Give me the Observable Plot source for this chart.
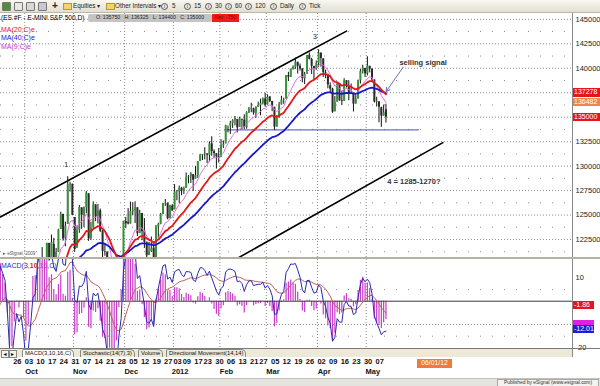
<!DOCTYPE html>
<html>
<head>
<meta charset="utf-8">
<script src="https://cdn.jsdelivr.net/npm/d3@7"></script>
<script src="https://cdn.jsdelivr.net/npm/@observablehq/plot@0.6"></script>
<style>
  html,body{margin:0;padding:0;background:#fff;}
  #root{position:relative;width:600px;height:386px;overflow:hidden;font-family:"Liberation Sans",Arial,sans-serif;background:#fff;}
  .a{position:absolute;white-space:nowrap;}
  #toolbar{left:0;top:0;width:600px;height:12px;background:linear-gradient(#f8f7f1,#e2dfd2);border-bottom:1px solid #bcb8a6;font-size:6.3px;color:#222;line-height:12px;}
  .ico{width:7px;height:7px;top:2px;border:1px solid #777;border-radius:1px;}
  .fold{width:7px;height:5px;top:3px;background:#f2d46a;border:1px solid #b59a30;}
  .ci{width:5px;height:5px;top:3px;border:1px solid #555;border-radius:50%;font-size:4.5px;line-height:5px;text-align:center;}
  .tab{top:349px;height:7px;font-size:5.8px;line-height:7px;padding:0 2px;border:1px solid #8c8a80;border-bottom:none;background:#ece9d8;color:#111;border-radius:2px 5px 0 0;}
  .vbox{color:#fff;font-size:7px;line-height:8.3px;height:8.3px;padding-left:1px;}
</style>
</head>
<body>
<div id="root">
  <div class="a" id="toolbar">
    <span class="a ico" style="left:2px;background:#4f8f3c"></span>
    <span class="a ico" style="left:14px;background:#e8e8e8"></span>
    <span class="a ico" style="left:26px;background:#d8d8d8"></span>
    <span class="a ico" style="left:38px;background:#c8c8d8"></span>
    <span class="a" style="left:52px;font-size:10px;font-weight:bold;line-height:11px">+</span>
    <span class="a fold" style="left:63px"></span>
    <span class="a" style="left:73px">Equities ▾</span>
    <span class="a fold" style="left:106px"></span>
    <span class="a" style="left:115px">Other Intervals ▾</span>
    <span class="a ci" style="left:161px">i</span><span class="a" style="left:172px">5</span>
    <span class="a ci" style="left:184px">i</span><span class="a" style="left:194px">15</span>
    <span class="a ci" style="left:205px">i</span><span class="a" style="left:215px">30</span>
    <span class="a ci" style="left:225px">i</span><span class="a" style="left:235px">60</span>
    <span class="a ci" style="left:245px">i</span><span class="a" style="left:255px">120</span>
    <span class="a ci" style="left:270px">i</span><span class="a" style="left:280px">Daily</span>
    <span class="a ci" style="left:299px">i</span><span class="a" style="left:309px">Tick</span>
  </div>
</div>
<script>
// ---------------- DATA (E-mini S&P 500 daily) ----------------
const warmDates = ("2011-08-01 2011-08-02 2011-08-03 2011-08-04 2011-08-05 2011-08-08 2011-08-09 2011-08-10 2011-08-11 2011-08-12 " +
  "2011-08-15 2011-08-16 2011-08-17 2011-08-18 2011-08-19 2011-08-22 2011-08-23 2011-08-24 2011-08-25 2011-08-26 " +
  "2011-08-29 2011-08-30 2011-08-31 2011-09-01 2011-09-02 2011-09-06 2011-09-07 2011-09-08 2011-09-09 2011-09-12 " +
  "2011-09-13 2011-09-14 2011-09-15 2011-09-16 2011-09-19 2011-09-20 2011-09-21 2011-09-22 2011-09-23").split(" ");
const warmClose = [1283.4,1250.6,1256.8,1196.6,1195.9,1116.0,1169.0,1117.3,1169.1,1175.3,
  1201.0,1189.3,1190.4,1137.2,1120.0,1120.3,1158.9,1174.1,1155.8,1173.3,
  1206.6,1209.4,1215.4,1200.9,1170.5,1161.7,1195.1,1182.4,1150.7,1158.8,
  1169.4,1185.2,1205.6,1212.5,1200.6,1198.6,1163.3,1126.1,1132.9];

const dates = ("2011-09-26 2011-09-27 2011-09-28 2011-09-29 2011-09-30 " +
  "2011-10-03 2011-10-04 2011-10-05 2011-10-06 2011-10-07 2011-10-10 2011-10-11 2011-10-12 2011-10-13 2011-10-14 2011-10-17 2011-10-18 2011-10-19 2011-10-20 2011-10-21 2011-10-24 2011-10-25 2011-10-26 2011-10-27 2011-10-28 2011-10-31 " +
  "2011-11-01 2011-11-02 2011-11-03 2011-11-04 2011-11-07 2011-11-08 2011-11-09 2011-11-10 2011-11-11 2011-11-14 2011-11-15 2011-11-16 2011-11-17 2011-11-18 2011-11-21 2011-11-22 2011-11-23 2011-11-24 2011-11-25 2011-11-28 2011-11-29 2011-11-30 " +
  "2011-12-01 2011-12-02 2011-12-05 2011-12-06 2011-12-07 2011-12-08 2011-12-09 2011-12-12 2011-12-13 2011-12-14 2011-12-15 2011-12-16 2011-12-19 2011-12-20 2011-12-21 2011-12-22 2011-12-23 2011-12-27 2011-12-28 2011-12-29 2011-12-30 " +
  "2012-01-03 2012-01-04 2012-01-05 2012-01-06 2012-01-09 2012-01-10 2012-01-11 2012-01-12 2012-01-13 2012-01-17 2012-01-18 2012-01-19 2012-01-20 2012-01-23 2012-01-24 2012-01-25 2012-01-26 2012-01-27 2012-01-30 2012-01-31 " +
  "2012-02-01 2012-02-02 2012-02-03 2012-02-06 2012-02-07 2012-02-08 2012-02-09 2012-02-10 2012-02-13 2012-02-14 2012-02-15 2012-02-16 2012-02-17 2012-02-21 2012-02-22 2012-02-23 2012-02-24 2012-02-27 2012-02-28 2012-02-29 " +
  "2012-03-01 2012-03-02 2012-03-05 2012-03-06 2012-03-07 2012-03-08 2012-03-09 2012-03-12 2012-03-13 2012-03-14 2012-03-15 2012-03-16 2012-03-19 2012-03-20 2012-03-21 2012-03-22 2012-03-23 2012-03-26 2012-03-27 2012-03-28 2012-03-29 2012-03-30 " +
  "2012-04-02 2012-04-03 2012-04-04 2012-04-05 2012-04-06 2012-04-09 2012-04-10 2012-04-11 2012-04-12 2012-04-13 2012-04-16 2012-04-17 2012-04-18 2012-04-19 2012-04-20 2012-04-23 2012-04-24 2012-04-25 2012-04-26 2012-04-27 2012-04-30 " +
  "2012-05-01 2012-05-02 2012-05-03 2012-05-04 2012-05-07 2012-05-08 2012-05-09 2012-05-10 2012-05-11").split(" ");

const open = [1133.4,1159.8,1171.9,1148.2,1156.4,
  1127.7,1093.9,1120.5,1140.6,1161.5,1154.7,1191.1,1192.7,1202.5,1202.2,1221.0,1197.3,1220.0,1206.4,1211.9,1235.2,1250.7,1225.7,1240.5,1280.9,1281.5,
  1247.5,1216.1,1234.8,1257.3,1249.7,1257.6,1271.7,1226.1,1236.6,1260.4,1248.2,1254.3,1233.1,1212.7,1212.1,1189.5,1184.0,1157.0,1157.9,1155.2,1189.1,1193.2,
  1243.4,1242.5,1240.8,1253.7,1254.6,1257.4,1231.0,1251.6,1233.3,1222.2,1208.6,1212.6,1216.2,1202.2,1237.8,1240.2,1250.5,1261.5,1261.9,1246.3,1259.3,
  1255.4,1273.5,1273.8,1277.4,1274.3,1277.3,1288.5,1289.0,1291.3,1286.7,1290.2,1304.6,1311.0,1311.8,1312.5,1310.9,1322.8,1314.8,1312.7,1310.0,
  1309.0,1320.7,1322.7,1340.8,1340.8,1343.5,1346.5,1347.7,1339.6,1347.8,1347.0,1339.1,1354.6,1357.7,1358.6,1354.0,1360.0,1361.7,1364.1,1368.7,
  1362.4,1370.6,1366.1,1360.1,1339.9,1349.2,1362.5,1367.3,1368.4,1392.5,1390.7,1399.1,1400.7,1406.1,1402.0,1399.4,1389.3,1393.6,1413.1,1409.0,1401.9,1399.8,
  1405.0,1415.5,1409.6,1395.3,1393.0,1382.0,1378.7,1355.5,1365.3,1384.1,1366.8,1366.1,1387.3,1381.6,1373.5,1375.0,1363.5,1368.6,1387.1,1396.7,1399.8,
  1394.4,1402.0,1398.8,1388.0,1365.3,1365.7,1359.7,1351.1,1357.5];
const high = [1160.7,1192.4,1181.2,1172.4,1156.5,
  1135.5,1121.6,1142.6,1162.1,1167.9,1191.4,1195.7,1216.8,1204.0,1221.1,1221.0,1229.6,1226.1,1215.9,1235.5,1253.0,1250.7,1242.8,1289.2,1283.6,1281.5,
  1247.5,1239.0,1259.7,1257.3,1258.2,1274.1,1271.7,1242.7,1263.5,1260.4,1260.8,1256.1,1234.2,1220.0,1212.1,1193.3,1184.0,1163.0,1169.2,1193.9,1200.2,1243.6,
  1247.6,1256.6,1263.2,1262.5,1263.6,1257.4,1254.8,1251.6,1246.4,1222.2,1222.1,1227.5,1221.1,1239.3,1241.6,1251.7,1261.9,1265.9,1262.4,1260.0,1260.6,
  1281.1,1275.2,1279.6,1278.3,1278.5,1293.0,1290.3,1293.3,1291.3,1299.5,1304.6,1312.0,1311.9,1318.8,1312.5,1324.8,1330.0,1316.6,1312.7,1317.9,
  1327.0,1325.7,1341.8,1340.9,1345.7,1347.5,1350.8,1347.7,1349.9,1347.8,1352.4,1355.5,1359.9,1364.3,1359.2,1360.7,1365.4,1368.4,1369.6,1374.5,
  1372.7,1371.0,1366.1,1360.1,1351.4,1365.2,1371.3,1369.5,1392.5,1395.9,1399.1,1402.4,1410.5,1406.1,1404.3,1399.4,1395.7,1413.1,1415.7,1410.2,1401.9,1407.4,
  1418.9,1415.5,1409.6,1398.1,1394.0,1385.0,1379.5,1371.2,1384.6,1384.1,1376.2,1389.3,1387.3,1387.0,1383.9,1375.0,1372.1,1387.9,1398.6,1403.1,1399.8,
  1411.8,1402.0,1399.6,1388.0,1370.4,1365.7,1360.2,1362.4,1363.25];
const low = [1127.6,1159.8,1146.9,1136.4,1127.8,
  1095.4,1071.3,1112.2,1131.4,1146.8,1154.7,1183.8,1192.7,1187.1,1202.2,1195.1,1188.0,1202.8,1193.8,1211.9,1235.2,1223.3,1217.6,1240.5,1273.5,1249.7,
  1211.9,1216.1,1231.3,1235.4,1237.3,1251.5,1223.1,1224.2,1236.6,1243.2,1240.8,1232.2,1205.9,1207.9,1179.7,1178.2,1158.3,1155.0,1155.2,1155.2,1188.3,1193.2,
  1236.2,1239.9,1240.8,1249.5,1241.3,1228.0,1231.0,1223.8,1215.9,1206.0,1208.6,1211.7,1198.9,1202.2,1226.0,1240.2,1250.5,1258.8,1245.1,1246.3,1254.0,
  1255.4,1264.6,1261.8,1269.8,1271.0,1277.3,1281.9,1282.3,1274.1,1286.7,1287.5,1304.6,1305.7,1306.4,1302.6,1304.2,1310.1,1308.2,1297.0,1303.2,
  1309.0,1318.1,1322.7,1334.0,1332.4,1338.5,1341.1,1333.9,1339.6,1337.3,1337.3,1337.7,1353.7,1354.6,1352.0,1348.8,1360.0,1351.4,1362.5,1360.3,
  1362.4,1364.8,1355.6,1336.5,1339.9,1349.2,1362.5,1363.2,1368.4,1386.5,1390.7,1398.0,1398.9,1394.2,1397.1,1385.2,1383.4,1393.6,1408.5,1393.7,1388.1,1397.9,
  1401.0,1401.1,1390.6,1389.4,1379.0,1374.7,1353.9,1355.5,1365.3,1366.4,1361.9,1366.1,1379.8,1366.8,1373.5,1355.3,1363.3,1368.6,1383.9,1394.2,1390.5,
  1392.2,1395.3,1385.2,1364.5,1360.4,1344.3,1339.6,1351.1,1344.0];
const close = [1159.5,1171.9,1147.6,1156.9,1127.9,
  1095.7,1120.5,1140.5,1161.5,1152.0,1191.4,1192.0,1203.8,1200.2,1221.1,1197.4,1221.9,1206.4,1211.9,1234.8,1250.7,1225.6,1238.5,1281.1,1281.6,1249.8,
  1214.8,1234.4,1257.7,1249.7,1257.6,1272.4,1225.6,1236.2,1260.4,1248.3,1254.3,1233.4,1212.6,1212.2,1189.5,1184.5,1158.3,1160.0,1155.2,1189.1,1191.7,1243.5,
  1241.1,1240.8,1253.6,1255.0,1257.5,1230.9,1251.7,1233.0,1222.2,1208.3,1212.3,1216.2,1201.9,1237.8,1240.2,1250.5,1261.8,1261.9,1246.1,1259.5,1254.1,
  1273.6,1273.8,1277.6,1274.3,1277.2,1288.6,1289.0,1292.0,1285.6,1290.2,1304.5,1311.0,1311.9,1312.5,1311.2,1322.6,1314.9,1312.8,1309.5,1308.9,
  1320.6,1322.0,1341.4,1340.8,1343.6,1346.5,1348.5,1339.1,1348.3,1347.0,1339.7,1354.5,1357.7,1358.7,1354.2,1360.0,1362.2,1364.1,1368.7,1362.2,
  1370.6,1366.1,1360.8,1339.9,1349.1,1362.4,1367.4,1367.6,1392.5,1390.8,1399.1,1400.7,1406.3,1402.0,1399.4,1389.3,1393.6,1413.0,1409.0,1402.0,1399.8,1405.0,
  1415.5,1409.9,1395.5,1394.6,1383.0,1378.7,1355.1,1365.2,1384.1,1366.8,1366.1,1387.3,1381.6,1373.4,1375.0,1363.4,1368.5,1387.2,1396.5,1399.9,1394.4,
  1402.3,1398.8,1388.1,1365.6,1366.1,1360.2,1351.1,1354.5,1350.0];

// Tick labels
const priceTicks = [1225,1250,1275,1300,1325,1350,1375,1400,1425,1450];
const macdTicks = [10,0,-10,-20];
const weekLabels = ["2011-09-26","2011-10-03","2011-10-10","2011-10-17","2011-10-24","2011-10-31","2011-11-07","2011-11-14","2011-11-21","2011-11-28",
  "2011-12-05","2011-12-12","2011-12-19","2011-12-27","2012-01-03","2012-01-09","2012-01-17","2012-01-23","2012-01-30","2012-02-06","2012-02-13",
  "2012-02-21","2012-02-27","2012-03-05","2012-03-12","2012-03-19","2012-03-26","2012-04-02","2012-04-09","2012-04-16","2012-04-23","2012-04-30","2012-05-07"];
const monthLabels = [["2011-10-03","Oct"],["2011-11-01","Nov"],["2011-12-01","Dec"],["2012-01-03","2012"],["2012-02-01","Feb"],["2012-03-01","Mar"],["2012-04-02","Apr"],["2012-05-01","May"]];

// Header values and last-value boxes
const header = {symbol: "(ES #F - E-MINI S&P 500,D)", O: "135750", H: "136325", L: "134400", C: "135000", net: "Net: -750"};
const lastMA20 = 1372.78, lastMA9 = 1364.82;
const lastSignal = -1.86, lastHist = -10.15, lastMacd = -12.01;

// Drawn annotations (bar index, price)
const upperTrend = [[-6, 1248], [143, 1438]];
const lowerTrend = [[80, 1184.3], [184.5, 1324]];
const support = [{from: 90.5, to: 174.4, price: 1337}];
const notes = [
  {i: 22.3, price: 1301.6, text: "1", bold: false},
  {i: 129.4, price: 1431.7, text: "3", bold: false},
  {i: 165.8, price: 1406.2, text: "selling signal", bold: true},
  {i: 160.6, price: 1284.6, text: "4 = 1285-1270?", bold: true}
];
const arrowNote = [{x1: 167.4, y1: 1401.1, x2: 160.1, y2: 1376.3}];

// ---------------- derived ----------------
const N = dates.length, W = warmDates.length;
const bars = dates.map((d, i) => ({i, date: d, open: open[i], high: high[i], low: low[i], close: close[i]}));
const allClose = warmClose.concat(close);
function ema(vals, n) {
  const k = 2 / (n + 1), out = vals.map(() => undefined);
  const start = vals.findIndex(v => v !== undefined);
  let s = 0;
  for (let j = start; j < vals.length; j++) {
    const v = vals[j];
    if (j - start < n - 1) s += v;
    else if (j - start === n - 1) { s += v; out[j] = s / n; }
    else out[j] = v * k + out[j - 1] * (1 - k);
  }
  return out;
}
const e9 = ema(allClose, 9), e20 = ema(allClose, 20), e40 = ema(allClose, 40);
const e3 = ema(allClose, 3), e10 = ema(allClose, 10);
const macd = allClose.map((_, j) => (e3[j] !== undefined && e10[j] !== undefined) ? e3[j] - e10[j] : undefined);
const sig = ema(macd, 16);
const ind = allClose.map((_, j) => ({
  i: j - W, ma9: e9[j], ma20: e20[j], ma40: e40[j],
  macd: macd[j], signal: sig[j], hist: (sig[j] !== undefined) ? macd[j] - sig[j] : undefined
}));
const idxOf = d => dates.indexOf(d);
const weekTicks = weekLabels.map(d => ({i: idxOf(d), label: d.slice(8)}));
const monthTicks = monthLabels.map(([d, t]) => ({i: idxOf(d), label: t}));
const monthLines = monthTicks.map(m => m.i - 0.5);
const minorPrice = priceTicks.map(p => p - 12.5).concat([1462.5]);

const xDomain = [-5.94, 240.3];
const yPriceDomain = [1205.58, 1455.97], priceH = 245;
const yMacdDomain = [-20.3, 17.9], macdH = 89;
const baseStyle = {background: "transparent", fontFamily: "Liberation Sans, Arial, sans-serif", fontSize: "7.5px", color: "#222", overflow: "visible"};
const grid = "#8c8c8c";

// price-axis value boxes (drawn on top of the axis); tick labels hidden under them are skipped
const pyLin = d3.scaleLinear(yPriceDomain, [priceH, 0]);
const pBoxes = [
  {v: lastMA20, bg: "#e4161b"},
  {v: lastMA9, bg: "#f0854a"},
  {v: close[N - 1], bg: "#e4161b"}
].map(b => ({...b, label: (b.v * 100).toFixed(0), c: pyLin(b.v)})).sort((a, b) => a.c - b.c);
for (let k = pBoxes.length - 2; k >= 0; k--) if (pBoxes[k].c > pBoxes[k + 1].c - 9.6) pBoxes[k].c = pBoxes[k + 1].c - 9.6;
const shownPriceTicks = priceTicks.filter(t => pBoxes.every(b => Math.abs(pyLin(t) - b.c) > 8));

const mBoxes = [
  {v: lastSignal, bg: "#e4161b", show: true},
  {v: lastHist, bg: "#e020e0", show: false},
  {v: lastMacd, bg: "#1c1cdc", show: true}
];
const myLin = d3.scaleLinear(yMacdDomain, [macdH, 0]);
const shownMacdTicks = macdTicks.filter(t => mBoxes.every(b => Math.abs(myLin(t) - myLin(b.v)) > 5.5));

// ---------------- price panel ----------------
const priceChart = Plot.plot({
  width: 600, height: priceH, marginTop: 0, marginBottom: 0, marginLeft: 0, marginRight: 28,
  x: {type: "linear", domain: xDomain, axis: null},
  y: {type: "linear", domain: yPriceDomain, axis: null},
  style: baseStyle,
  marks: [
    Plot.ruleY(minorPrice, {stroke: grid, strokeDasharray: "1,11", clip: true}),
    Plot.ruleY(priceTicks, {stroke: grid, strokeDasharray: "1,2"}),
    Plot.ruleX(monthLines, {stroke: grid, strokeDasharray: "1,2"}),
    Plot.ruleY(support, {x1: "from", x2: "to", y: "price", stroke: "#4848b8", strokeWidth: 1}),
    Plot.line(upperTrend, {x: d => d[0], y: d => d[1], stroke: "#000", strokeWidth: 1.6, clip: true}),
    Plot.line(lowerTrend, {x: d => d[0], y: d => d[1], stroke: "#000", strokeWidth: 1.6, clip: true}),
    Plot.ruleX(bars, {x: "i", y1: "low", y2: "high", stroke: "#111", strokeWidth: 1, clip: true}),
    Plot.ruleX(bars.filter(d => d.close >= d.open), {x: "i", y1: "open", y2: "close", stroke: "#389238", strokeWidth: 2, clip: true}),
    Plot.ruleX(bars.filter(d => d.close < d.open), {x: "i", y1: "open", y2: "close", stroke: "#2a2a2a", strokeWidth: 2, clip: true}),
    Plot.line(ind, {x: "i", y: "ma9", stroke: "#e070e0", strokeWidth: 1, clip: true}),
    Plot.line(ind, {x: "i", y: "ma40", stroke: "#1818c8", strokeWidth: 1.8, clip: true}),
    Plot.line(ind, {x: "i", y: "ma20", stroke: "#e01818", strokeWidth: 1.8, clip: true}),
    Plot.text(notes.filter(n => !n.bold), {x: "i", y: "price", text: "text", textAnchor: "middle", fill: "#222", fontSize: 7}),
    Plot.text(notes.filter(n => n.bold), {x: "i", y: "price", text: "text", textAnchor: "start", fill: "#333", fontSize: 7.5, fontWeight: "bold"}),
    Plot.arrow(arrowNote, {x1: "x1", y1: "y1", x2: "x2", y2: "y2", stroke: "#5c5cb0", strokeWidth: 0.9, headLength: 7}),
    Plot.axisY(shownPriceTicks, {anchor: "right", tickSize: 0, tickPadding: 3, tickFormat: d => String(d * 100), fill: "#222"})
  ]
});

// ---------------- MACD panel ----------------
const macdChart = Plot.plot({
  width: 600, height: 127, marginTop: 0, marginBottom: 38, marginLeft: 0, marginRight: 28,
  x: {type: "linear", domain: xDomain, axis: null},
  y: {type: "linear", domain: yMacdDomain, axis: null},
  style: baseStyle,
  marks: [
    Plot.ruleY([5, -15], {stroke: grid, strokeDasharray: "1,11"}),
    Plot.ruleY([-10], {stroke: grid, strokeDasharray: "1,2"}),
    Plot.ruleX(monthLines, {stroke: grid, strokeDasharray: "1,2"}),
    Plot.ruleX(ind, {x: "i", y1: 0, y2: "hist", stroke: "#c83cc8", strokeWidth: 1.2, clip: true}),
    Plot.ruleY([0], {stroke: "#3a3a3a", strokeWidth: 1}),
    Plot.line(ind, {x: "i", y: "signal", stroke: "#c0605a", strokeWidth: 1, clip: true}),
    Plot.line(ind, {x: "i", y: "macd", stroke: "#2a2ab0", strokeWidth: 1, clip: true}),
    Plot.axisY(shownMacdTicks, {anchor: "right", tickSize: 0, tickPadding: 3, tickFormat: d => String(d), fill: "#222"}),
    Plot.text(weekTicks, {x: "i", text: "label", frameAnchor: "bottom", dx: 3, dy: 15.5, fontSize: 7.5, fontWeight: "bold", fill: "#111"}),
    Plot.text(monthTicks, {x: "i", text: "label", frameAnchor: "bottom", dx: 5.5, dy: 25, fontSize: 7.5, fontWeight: "bold", fill: "#111"})
  ]
});

// ---------------- assemble ----------------
const root = document.getElementById("root");
function place(el, left, top) {
  const w = document.createElement("div");
  w.className = "a"; w.style.left = left + "px"; w.style.top = top + "px";
  w.appendChild(el); root.appendChild(w); return w;
}
place(priceChart, 0, 13);
place(macdChart, 0, 259);

function div(style, html) {
  const d = document.createElement("div");
  d.className = "a"; d.style.cssText += style; if (html != null) d.innerHTML = html;
  root.appendChild(d); return d;
}
// frame lines
div("left:572px;top:13px;width:1px;height:344px;background:#8a8a8a;");
div("left:0;top:257px;width:600px;height:2px;background:#b4b1a0;");
div("left:0;top:348px;width:600px;height:1px;background:#7a7a7a;");

// header row
div("left:1px;top:13.5px;font-size:6.6px;color:#000;line-height:8px;", header.symbol);
div("left:88px;top:14px;width:124px;height:7.5px;background:#c4c4c4;border-radius:2px;font-size:5.2px;line-height:7.5px;color:#222;text-align:center;",
  `O: ${header.O}&nbsp;&nbsp; H: ${header.H}&nbsp;&nbsp; L: ${header.L}&nbsp;&nbsp; C: ${header.C}`);
div("left:212px;top:14px;width:27px;height:7.5px;background:#f01c1c;font-size:5.2px;line-height:7.5px;color:#8a0000;text-align:center;", header.net);

// MA legend
div("left:1px;top:26px;font-size:7px;line-height:8px;color:#e01818;", "MA(20;C)e");
div("left:1px;top:34.3px;font-size:7px;line-height:8px;color:#1818c8;", "MA(40;C)e");
div("left:1px;top:42.7px;font-size:7px;line-height:8px;color:#d030d0;", "MA(9;C)e");
div("left:3px;top:251px;font-size:4.6px;line-height:6px;color:#555;", "▸ eSignal, 2009");

// MACD legend
div("left:1px;top:262px;font-size:7px;line-height:8px;color:#2a2ac0;", 'MACD(3,<b style="color:#c03030">10</b>,<span style="color:#c040c0">16</span>,C)');

// last value boxes (price)
pBoxes.forEach(b => div(`left:573px;top:${13 + b.c - 4.15}px;width:26px;background:${b.bg};`, b.label).classList.add("vbox"));

// last value boxes (MACD)
mBoxes.forEach(b => div(`left:573px;top:${259 + myLin(b.v) - 4.15}px;width:20px;background:${b.bg};`, b.show ? b.v.toFixed(2) : "").classList.add("vbox"));

// tab strip
div("left:0;top:349px;width:572px;height:8px;background:#ece9d8;");
div("left:1px;top:349.5px;width:6px;height:6.5px;border:1px solid #888;background:#f4f3ee;font-size:5px;line-height:6.5px;text-align:center;", "◄");
div("left:8.5px;top:349.5px;width:6px;height:6.5px;border:1px solid #888;background:#f4f3ee;font-size:5px;line-height:6.5px;text-align:center;", "►");
div("left:22px;background:#fff;", "MACD(3,10,16,C)").classList.add("tab");
div("left:80px;", "Stochastic(14(7),3)").classList.add("tab");
div("left:138px;", "Volume").classList.add("tab");
div("left:166px;", "Directional Movement(14,14)").classList.add("tab");

// date marker + footer
div("left:417px;top:359px;width:35px;height:8.5px;background:#f07a3c;color:#fff;font-size:6.8px;line-height:8.5px;text-align:center;", "06/01/12");
div("left:0;top:378px;width:600px;height:8px;background:#e4e3de;border-top:1px solid #c4c2b8;");
div("left:497px;top:378.5px;width:100px;height:6px;border:1px solid #a8a8a8;background:#f2f2f0;font-size:4.9px;line-height:6px;color:#333;text-align:center;", "Published by eSignal (www.esignal.com)");
</script>
</body>
</html>
